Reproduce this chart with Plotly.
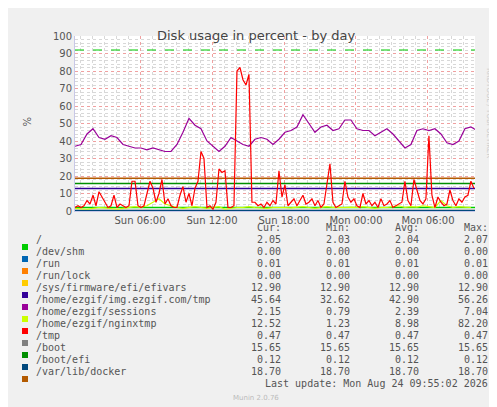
import plotly.graph_objects as go

W, H = 497, 407
L, R, T, B = 67, 467, 28, 203
START = 0.58  # hours after Sun 00:00
END = 33.92

purple = [37,38,44,47,42,41,43,42,38,37,36,36,35,36,35,34,34,38,45,53,49,47,40,37,34,37,42,40,38,37,41,42,41,38,41,45,46,48,55,50,45,48,49,46,47,52,52,47,46,46,43,45,47,44,40,36,38,46,47,46,47,44,39,38,40,47,48,46]
red = [2,3,2,3, 6,4,9,3, 11,8,5,2, 3,9,2,4, 3,2,3,17, 17,3,2,3, 10,17,13,5, 10,18,4,7,
       3,2,2,9, 14,5,10,3, 13,17,34,30, 2,3,1,5, 24,22,23,2, 2,3,80,82, 75,72,78,5,
       5,3,4,2, 5,3,6,4, 23,8,15,3, 5,7,3,6, 9,4,5,7, 3,6,2,4, 16,27,5,2, 3,4,17,8,
       5,7,3,2, 10,4,6,3, 5,2,7,3, 4,6,2,3, 4,5,17,6, 3,18,12,6, 4,7,43,9, 2,8,5,3,
       4,12,6,3, 7,5,8,9, 17,13]
sessions = [1.5,1.2,1.0,1.5,2,1.8,1.2,1,1.5,2,2.5,2,3,5,7,4,3,2,1.5,2,2.5,2,1.5,2,2.5,1,1.5,2,2,2.5,2,1.8,1.5,2,2.2,2,1.8,2,2.5,2,1.5,2,2.5,2,1.8,2,2.2,2,2.5,2,1.5,2,2,2.5,3,2,2.5,2.2,3,2.5,2,6,3,2,2.5,2.2,2]

names = ["/", "/dev/shm", "/run", "/run/lock", "/sys/firmware/efi/efivars",
         "/home/ezgif/img.ezgif.com/tmp", "/home/ezgif/sessions", "/home/ezgif/nginxtmp",
         "/tmp", "/boot", "/boot/efi", "/var/lib/docker"]
colors = ["#00CC00", "#0066B3", "#FF8000", "#FFCC00", "#330099", "#990099",
          "#CCFF00", "#FF0000", "#808080", "#008F00", "#00487D", "#B35A00"]
cur = ["2.05","0.00","0.01","0.00","12.90","45.64","2.15","12.52","0.47","15.65","0.12","18.70"]
mn  = ["2.03","0.00","0.01","0.00","12.90","32.62","0.79","1.23","0.47","15.65","0.12","18.70"]
avg = ["2.04","0.00","0.01","0.00","12.90","42.90","2.39","8.98","0.47","15.65","0.12","18.70"]
mx  = ["2.07","0.00","0.01","0.00","12.90","56.26","7.04","82.20","0.47","15.65","0.12","18.70"]
flat = {0: 2.05, 1: 0.0, 2: 0.01, 3: 0.0, 4: 12.9, 8: 0.47, 9: 15.65, 10: 0.12, 11: 18.7}
warning = 92
tickvals = [6, 12, 18, 24, 30]
ticktext = ["Sun 06:00", "Sun 12:00", "Sun 18:00", "Mon 00:00", "Mon 06:00"]

def xs(n, step):
    return [START + i * step for i in range(n)]

fig = go.Figure()
for i, v in flat.items():
    fig.add_trace(go.Scatter(x=[START, END], y=[v, v], mode="lines",
                             line=dict(color=colors[i], width=1.5), hoverinfo="skip"))
fig.add_trace(go.Scatter(x=xs(len(sessions), 0.5), y=sessions, mode="lines",
                         line=dict(color=colors[6], width=1.2)))
fig.add_trace(go.Scatter(x=xs(len(purple), 0.5), y=purple, mode="lines",
                         line=dict(color=colors[5], width=1.2)))
fig.add_trace(go.Scatter(x=xs(len(red), 0.25), y=red, mode="lines",
                         line=dict(color=colors[7], width=1.2)))
fig.add_trace(go.Scatter(x=[START, END], y=[warning, warning], mode="lines",
                         line=dict(color="#00CC00", width=1.2, dash="dash")))

def px(x): return (x - L) / (R - L)
def py(y): return (B - y) / (B - T)

ann = []
shapes = []
mono = dict(family="DejaVu Sans Mono", size=10, color="#555")
P = dict(xref="paper", yref="paper", showarrow=False)
for j, hd in enumerate(["Cur:", "Min:", "Avg:", "Max:"]):
    ann.append(dict(x=px([275, 344, 413, 482][j]), y=py(227), text=hd, xanchor="right",
                    font=mono, **P))
for i, n in enumerate(names):
    yy = 239 + 12 * i
    shapes.append(dict(type="rect", xref="paper", yref="paper", x0=px(14), x1=px(20),
                       y0=py(yy - 3), y1=py(yy + 3), fillcolor=colors[i], line_width=0))
    ann.append(dict(x=px(26), y=py(yy), text=n, xanchor="left", font=mono, **P))
    for j, val in enumerate([cur[i], mn[i], avg[i], mx[i]]):
        ann.append(dict(x=px([275, 344, 413, 482][j]), y=py(yy), text=val, xanchor="right",
                        font=mono, **P))
ann.append(dict(x=px(482), y=py(383), text="Last update: Mon Aug 24 09:55:02 2026",
                xanchor="right", font=mono, **P))
ann.append(dict(x=px(248), y=py(396), text="Munin 2.0.76",
                font=dict(family="DejaVu Sans", size=7, color="#bbb"), **P))
ann.append(dict(x=px(248), y=py(18), text="Disk usage in percent - by day",
                font=dict(family="DejaVu Sans", size=13, color="#444"), **P))
ann.append(dict(x=px(11), y=py(113), text="%", textangle=-90,
                font=dict(family="DejaVu Sans", size=10, color="#555"), **P))
ann.append(dict(x=px(487), y=py(58), text="RRDTOOL / TOBI OETIKER", textangle=90,
                font=dict(family="DejaVu Sans", size=7, color="#ccc"), **P))

fig.update_layout(
    width=W, height=H, margin=dict(l=L, r=W - R, t=T, b=H - B, autoexpand=False),
    paper_bgcolor="#F0F0F0", plot_bgcolor="white", showlegend=False,
    annotations=ann, shapes=shapes,
    xaxis=dict(range=[START, END], tickmode="array", tickvals=tickvals, ticktext=ticktext,
               showgrid=True, gridcolor="#F0A0A0", griddash="dot", gridwidth=1,
               minor=dict(dtick=1, tick0=0, showgrid=True, gridcolor="#D8D8D8", griddash="dot"),
               tickfont=dict(family="DejaVu Sans", size=10, color="#555"), zeroline=False,
               showline=True, linecolor="#C8C8E8", ticks=""),
    yaxis=dict(range=[0, 100], dtick=10, showgrid=True, gridcolor="#F0A0A0", griddash="dot",
               minor=dict(dtick=2, showgrid=True, gridcolor="#D8D8D8", griddash="dot"),
               tickfont=dict(family="DejaVu Sans", size=10, color="#555"), zeroline=False,
               showline=True, linecolor="#C8C8E8", ticks=""),
)
fig.write_html("out.html")
